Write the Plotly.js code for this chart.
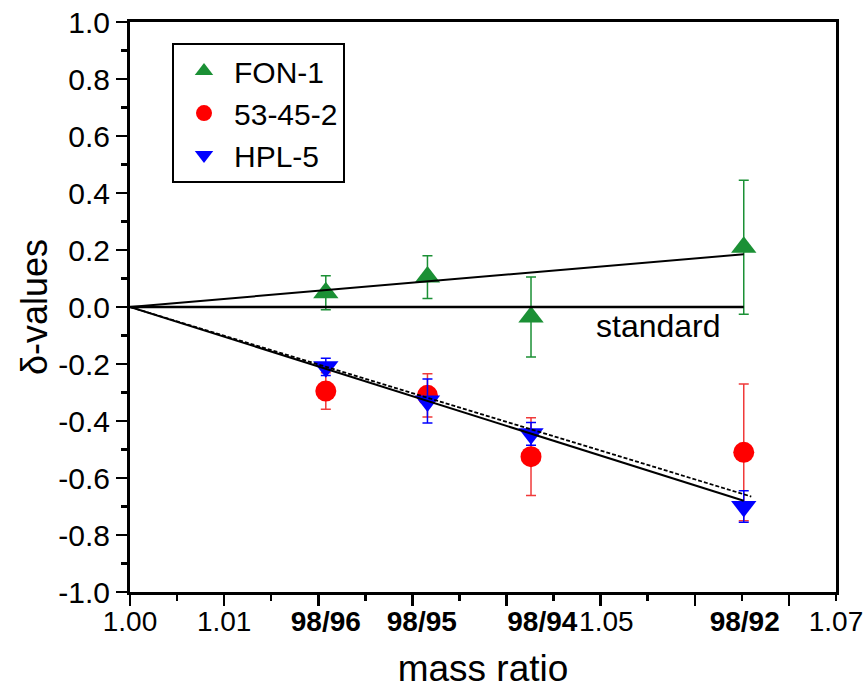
<!DOCTYPE html>
<html>
<head>
<meta charset="utf-8">
<script src="https://cdn.plot.ly/plotly-3.0.1.min.js"></script>
<style>html,body{margin:0;padding:0;background:#fff;}#chart{width:868px;height:690px;}</style>
</head>
<body>
<div id="chart"></div>
<script>
// ---- data ----
const massRatio = [1.0208, 1.0316, 1.0426, 1.0652];          // 98/96, 98/95, 98/94, 98/92
const massLabels = ['98/96', '98/95', '98/94', '98/92'];

const fon1    = [0.05, 0.105, -0.035, 0.21];
const fon1Err = [0.06, 0.075, 0.14, 0.235];

const s53    = [-0.295, -0.31, -0.525, -0.51];
const s53Err = [0.064, 0.076, 0.136, 0.24];

const hpl5    = [-0.21, -0.33, -0.445, -0.70];
const hpl5Err = [0.03, 0.077, 0.04, 0.055];

// fitted lines (start / end)
const fitX        = [1.00, 1.0652];
const fon1Fit     = [0, 0.185];
const hpl5Fit     = [0, -0.68];
const s53FitX     = [1.00, 1.066];
const s53Fit      = [0, -0.665];
const standardFit = [0, 0];

// tick labels
const xLabelPos  = [1.00, 1.01, 1.0208, 1.0310, 1.0438, 1.0506, 1.0653, 1.075];
const xLabelText = ['1.00', '1.01', '<b>98/96</b>', '<b>98/95</b>', '<b>98/94</b>', '1.05', '<b>98/92</b>', '1.07'];
const yTickVals  = [-1.0, -0.8, -0.6, -0.4, -0.2, 0.0, 0.2, 0.4, 0.6, 0.8, 1.0];
const yTickText  = ['-1.0', '-0.8', '-0.6', '-0.4', '-0.2', '0.0', '0.2', '0.4', '0.6', '0.8', '1.0'];

const FONT = 'Liberation Sans, Arial, Helvetica, sans-serif';
const GREEN = '#1b9035', RED = '#ff0000', BLUE = '#0000ff';

const traces = [
  { x: massRatio, y: fon1, name: 'FON-1', type: 'scatter', mode: 'markers',
    marker: { symbol: 'triangle-up', size: 22, color: GREEN },
    error_y: { type: 'data', array: fon1Err, visible: true, color: GREEN, thickness: 1.5, width: 5 } },
  { x: massRatio, y: s53, name: '53-45-2', type: 'scatter', mode: 'markers',
    marker: { symbol: 'circle', size: 21, color: RED },
    error_y: { type: 'data', array: s53Err, visible: true, color: '#f03a3a', thickness: 1.5, width: 5 } },
  { x: massRatio, y: hpl5, name: 'HPL-5', type: 'scatter', mode: 'markers',
    marker: { symbol: 'triangle-down', size: 22, color: BLUE },
    error_y: { type: 'data', array: hpl5Err, visible: true, color: BLUE, thickness: 1.5, width: 5 } },
  { x: fitX, y: standardFit, mode: 'lines', showlegend: false, hoverinfo: 'skip',
    line: { color: '#000', width: 2.5 } },
  { x: fitX, y: fon1Fit, mode: 'lines', showlegend: false, hoverinfo: 'skip',
    line: { color: '#000', width: 2 } },
  { x: s53FitX, y: s53Fit, mode: 'lines', showlegend: false, hoverinfo: 'skip',
    line: { color: '#000', width: 1.8, dash: '4px,2px' } },
  { x: fitX, y: hpl5Fit, mode: 'lines', showlegend: false, hoverinfo: 'skip',
    line: { color: '#000', width: 2 } },
  // carrier for the label axis
  { x: [xLabelPos[0]], y: [0], xaxis: 'x2', mode: 'markers', showlegend: false, hoverinfo: 'skip',
    marker: { opacity: 0, size: 1 } }
];

const layout = {
  width: 868, height: 690,
  margin: { l: 130, r: 32, t: 22, b: 98 },
  paper_bgcolor: '#fff', plot_bgcolor: '#fff',
  font: { family: FONT, color: '#000', size: 28 },
  showlegend: true,
  legend: {
    x: 0.0595, y: 0.963, xanchor: 'left', yanchor: 'top',
    bordercolor: '#000', borderwidth: 2, bgcolor: '#fff',
    font: { family: FONT, size: 30, color: '#000' },
    itemwidth: 50, tracegroupgap: 0
  },
  xaxis: {
    range: [1.0, 1.075], tick0: 1.0, dtick: 0.01,
    ticks: 'outside', ticklen: 11, tickwidth: 2.5, tickcolor: '#000',
    minor: { dtick: 0.005, ticks: 'outside', ticklen: 6, tickwidth: 2.5, tickcolor: '#000', showgrid: false },
    showticklabels: false,
    showline: true, linewidth: 3, linecolor: '#000', mirror: true,
    showgrid: false, zeroline: false
  },
  xaxis2: {
    overlaying: 'x', anchor: 'y', side: 'bottom', range: [1.0, 1.075],
    tickmode: 'array', tickvals: xLabelPos, ticktext: xLabelText, tickangle: 0,
    ticks: 'outside', ticklen: 4, tickcolor: 'rgba(0,0,0,0)',
    tickfont: { family: FONT, size: 28, color: '#000' },
    showline: false, showgrid: false, zeroline: false,
    title: { text: 'mass ratio', font: { family: FONT, size: 37, color: '#000' }, standoff: 19 }
  },
  yaxis: {
    range: [-1.0, 1.0],
    tickmode: 'array', tickvals: yTickVals, ticktext: yTickText,
    ticks: 'outside', ticklen: 11, tickwidth: 2.5, tickcolor: '#000',
    minor: { dtick: 0.1, tick0: 0, ticks: 'outside', ticklen: 6, tickwidth: 2.5, tickcolor: '#000', showgrid: false },
    tickfont: { family: FONT, size: 30, color: '#000' },
    showline: true, linewidth: 3, linecolor: '#000', mirror: true,
    showgrid: false, zeroline: false,
    title: { text: 'δ-values', font: { family: FONT, size: 36, color: '#000' }, standoff: 0 }
  },
  annotations: [
    { x: 1.0561, y: -0.065, xref: 'x', yref: 'y', text: 'standard', showarrow: false,
      font: { family: FONT, size: 32, color: '#000' }, xanchor: 'center', yanchor: 'middle' }
  ]
};

Plotly.newPlot('chart', traces, layout, { displayModeBar: false, staticPlot: true });
</script>
</body>
</html>
